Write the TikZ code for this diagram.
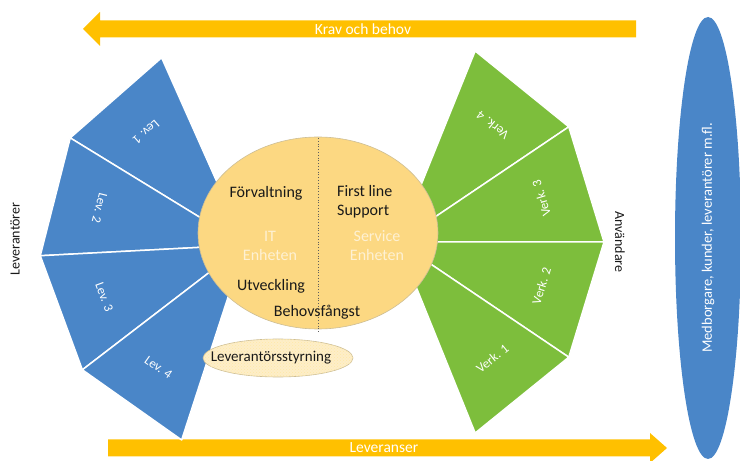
\documentclass[tikz,border=0pt]{standalone}
\usepackage{fontspec}
\setmainfont{Carlito}
\usetikzlibrary{calc,patterns}
\definecolor{levblue}{RGB}{74,134,200}
\definecolor{verkgreen}{RGB}{125,190,60}
\definecolor{flowgold}{RGB}{255,192,0}
\definecolor{hubyellow}{RGB}{252,216,130}
\definecolor{hubedge}{RGB}{205,190,150}
\definecolor{styrfill}{RGB}{253,238,200}
\definecolor{inktext}{RGB}{25,25,25}
\tikzset{
  levwedge/.style={fill=levblue, draw=white, line width=1.5pt, line join=round},
  verkwedge/.style={fill=verkgreen, draw=white, line width=1.5pt, line join=round},
  fanlabel/.style={text=white, font=\fontsize{13}{15}\selectfont, inner sep=0pt},
  flowarrow/.style={fill=flowgold},
  flowlabel/.style={text=white, font=\fontsize{15.5}{17}\selectfont, inner sep=0pt},
  hubtext/.style={text=inktext, font=\fontsize{16}{19}\selectfont, inner sep=0pt},
  unittext/.style={hubtext, text=hubyellow!35!white, align=center},
  sidetext/.style={text=inktext, font=\fontsize{14}{16}\selectfont, inner sep=0pt},
}

\begin{document}
\begin{tikzpicture}[x=1pt,y=1pt]
  \useasboundingbox (0,0) rectangle (740,461);

  % krav och behov / leveranser
  \fill[flowarrow] (83,432) -- (100,449) -- (100,440.5) -- (636,440.5) -- (636,423.5) -- (100,423.5) -- (100,415) -- cycle;
  \node[flowlabel] (Krav) at (363,432) {Krav och behov};
  \fill[flowarrow] (108,21.5) -- (650,21.5) -- (650,28) -- (667,13) -- (650,-2) -- (650,4.5) -- (108,4.5) -- cycle;
  \node[flowlabel] (Leveranser) at (384,13) {Leveranser};

  % leverantörer
  \coordinate (LevCenter) at (245,216);
  \draw[levwedge, shift={(LevCenter)}] (0,0) -- (114:205) -- (148.5:205) -- cycle;
  \draw[levwedge, shift={(LevCenter)}] (0,0) -- (148.5:205) -- (183:205) -- cycle;
  \draw[levwedge, shift={(LevCenter)}] (0,0) -- (183:205) -- (217.5:205) -- cycle;
  \draw[levwedge, shift={(LevCenter)}] (0,0) -- (217.5:205) -- (252:205) -- cycle;
  \node[fanlabel, rotate=221.25] (Lev1) at ($(LevCenter)+(131.25:150)$) {Lev. 1};
  \node[fanlabel, rotate=255.75] (Lev2) at ($(LevCenter)+(165.75:150)$) {Lev. 2};
  \node[fanlabel, rotate=290.25] (Lev3) at ($(LevCenter)+(200.25:150)$) {Lev. 3};
  \node[fanlabel, rotate=324.75] (Lev4) at ($(LevCenter)+(234.75:150)$) {Lev. 4};

  % verksamheter
  \coordinate (VerkCenter) at (398,219);
  \draw[verkwedge, shift={(VerkCenter)}] (0,0) -- (68:206) -- (34:206) -- cycle;
  \draw[verkwedge, shift={(VerkCenter)}] (0,0) -- (34:206) -- (0:206) -- cycle;
  \draw[verkwedge, shift={(VerkCenter)}] (0,0) -- (0:206) -- (-34:206) -- cycle;
  \draw[verkwedge, shift={(VerkCenter)}] (0,0) -- (-34:206) -- (-68:206) -- cycle;
  \node[fanlabel, rotate=141] (Verk4) at ($(VerkCenter)+(51:150)$) {Verk. 4};
  \node[fanlabel, rotate=107] (Verk3) at ($(VerkCenter)+(17:150)$) {Verk. 3};
  \node[fanlabel, rotate=73] (Verk2) at ($(VerkCenter)+(-17:150)$) {Verk. 2};
  \node[fanlabel, rotate=39] (Verk1) at ($(VerkCenter)+(-51:150)$) {Verk. 1};

  % IT-enheten och serviceenheten
  \draw[fill=hubyellow, draw=hubedge, line width=0.6pt] (318,228) ellipse [x radius=120, y radius=96];
  \draw[inktext!70, dotted, line width=0.8pt] (318,323) -- (318,128);
  \node[hubtext] (Forvaltning) at (266,268) {Förvaltning};
  \node[hubtext, anchor=west, align=left] (FirstLine) at (337,259.5) {First line\\Support};
  \node[unittext] (ITEnheten) at (270,215) {IT\\Enheten};
  \node[unittext] (ServiceEnheten) at (377,215) {Service\\Enheten};
  \node[hubtext] (Utveckling) at (271,175) {Utveckling};
  \node[hubtext] (Behovsfangst) at (317,149) {Behovsfångst};

  \draw[fill=styrfill, draw=hubedge, line width=0.6pt,
        postaction={pattern=crosshatch dots, pattern color=flowgold!35}] (278,103) ellipse [x radius=75, y radius=19];
  \node[hubtext, font=\fontsize{15}{17}\selectfont] (Styrning) at (271,103) {Leverantörsstyrning};

  % sidorna
  \node[sidetext, rotate=90] (Leverantorer) at (15,222) {Leverantörer};
  \node[sidetext, rotate=-90] (Anvandare) at (620,219) {Användare};
  \fill[levblue] (708,223) ellipse [x radius=33, y radius=221];
  \node[flowlabel, font=\fontsize{14.5}{16}\selectfont, rotate=90] (Medborgare) at (708,223) {Medborgare, kunder, leverantörer m.fl.};
\end{tikzpicture}
\end{document}
